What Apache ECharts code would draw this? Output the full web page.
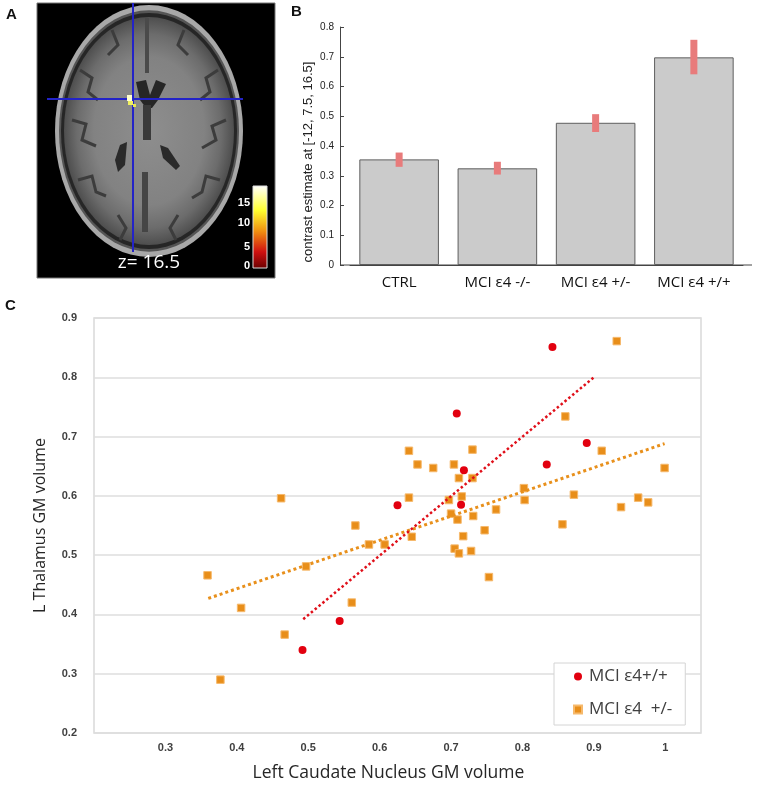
<!DOCTYPE html>
<html>
<head>
<meta charset="utf-8">
<script src="https://cdn.jsdelivr.net/npm/echarts@6/dist/echarts.min.js"></script>
<style>
html,body{margin:0;padding:0;background:#fff;}
#chart{width:765px;height:789px;}
</style>
</head>
<body>
<div id="chart"></div>
<script>
// ---- Panel B data ----
const bCategories = ['CTRL', 'MCI ε4 -/-', 'MCI ε4 +/-', 'MCI ε4 +/+'];
const bMeans = [0.355, 0.325, 0.478, 0.698];
const bErrLow = [0.330, 0.304, 0.447, 0.641];
const bErrHigh = [0.378, 0.347, 0.507, 0.757];
const bYTitle = 'contrast estimate at [-12, 7.5, 16.5]';

// ---- Panel C data ----
const homX = [0.708, 0.718, 0.625, 0.714, 0.544, 0.492, 0.842, 0.890, 0.834];
const homY = [0.739, 0.643, 0.584, 0.585, 0.389, 0.340, 0.851, 0.689, 0.653];
const hetX = [0.462, 0.641, 0.653, 0.675, 0.704, 0.730, 0.711, 0.730, 0.641, 0.715,
              0.697, 0.763, 0.700, 0.709, 0.731, 0.566, 0.747, 0.717, 0.645, 0.585,
              0.607, 0.705, 0.711, 0.728, 0.497, 0.359, 0.753, 0.406, 0.561, 0.467,
              0.377, 0.932, 0.860, 0.911, 0.999, 0.802, 0.803, 0.872, 0.962, 0.976,
              0.938, 0.856];
const hetY = [0.596, 0.676, 0.653, 0.647, 0.653, 0.678, 0.630, 0.630, 0.597, 0.599,
              0.593, 0.577, 0.570, 0.560, 0.566, 0.550, 0.542, 0.532, 0.531, 0.518,
              0.518, 0.511, 0.503, 0.507, 0.481, 0.466, 0.463, 0.411, 0.420, 0.366,
              0.290, 0.861, 0.734, 0.676, 0.647, 0.613, 0.593, 0.602, 0.597, 0.589,
              0.581, 0.552];
const homTrendX = [0.493, 0.902];
const homTrendY = [0.392, 0.802];
const hetTrendX = [0.360, 0.999];
const hetTrendY = [0.427, 0.688];

// ---- Panel A colour bar labels ----
const cbarLabels = ['15', '10', '5', '0'];

const zip = (xs, ys) => xs.map((x, i) => [x, ys[i]]);
const fmt1 = v => (Math.abs(v) < 1e-9 ? '0' : (Math.abs(v - 1) < 1e-9 ? '1' : v.toFixed(1)));

const chart = echarts.init(document.getElementById('chart'), null, {renderer: 'canvas'});

// Panel A schematic graphics
const cx = 149, cy = 131, sy = 126 / 94;
const dark = '#3c3c3c';
const brain = [
  {type: 'rect', shape: {x: 37, y: 3, width: 238, height: 275}, style: {fill: '#000', stroke: '#777', lineWidth: 1}},
  {type: 'circle', x: cx, y: cy, scaleY: sy, shape: {cx: 0, cy: 0, r: 94}, style: {fill: '#a8a8a8'}},
  {type: 'circle', x: cx, y: cy, scaleY: sy, shape: {cx: 0, cy: 0, r: 90}, style: {fill: '#555'}},
  {type: 'circle', x: cx, y: cy, scaleY: sy, shape: {cx: 0, cy: 0, r: 88}, style: {fill: '#262626'}},
  {type: 'circle', x: cx, y: cy, scaleY: sy, shape: {cx: 0, cy: 0, r: 85},
    style: {fill: {type: 'radial', x: 0.5, y: 0.5, r: 0.5, colorStops: [
      {offset: 0, color: '#8e8e8e'}, {offset: 0.65, color: '#828282'}, {offset: 0.85, color: '#6c6c6c'}, {offset: 1, color: '#4e4e4e'}]}}},
  // sulci
  {type: 'polyline', shape: {points: [[80, 70], [92, 78], [88, 92], [98, 100]]}, style: {stroke: dark, lineWidth: 3, fill: null}},
  {type: 'polyline', shape: {points: [[72, 120], [86, 124], [82, 140], [96, 146]]}, style: {stroke: dark, lineWidth: 3, fill: null}},
  {type: 'polyline', shape: {points: [[78, 180], [92, 176], [96, 192], [106, 196]]}, style: {stroke: dark, lineWidth: 3, fill: null}},
  {type: 'polyline', shape: {points: [[218, 70], [206, 78], [210, 92], [200, 100]]}, style: {stroke: dark, lineWidth: 3, fill: null}},
  {type: 'polyline', shape: {points: [[226, 120], [212, 126], [216, 140], [202, 148]]}, style: {stroke: dark, lineWidth: 3, fill: null}},
  {type: 'polyline', shape: {points: [[220, 180], [206, 176], [202, 192], [192, 198]]}, style: {stroke: dark, lineWidth: 3, fill: null}},
  {type: 'polyline', shape: {points: [[112, 30], [118, 45], [108, 55]]}, style: {stroke: dark, lineWidth: 3, fill: null}},
  {type: 'polyline', shape: {points: [[184, 30], [178, 45], [188, 55]]}, style: {stroke: dark, lineWidth: 3, fill: null}},
  {type: 'polyline', shape: {points: [[118, 215], [126, 228], [120, 240]]}, style: {stroke: dark, lineWidth: 3, fill: null}},
  {type: 'polyline', shape: {points: [[178, 215], [170, 228], [176, 240]]}, style: {stroke: dark, lineWidth: 3, fill: null}},
  // ventricles & midline
  {type: 'polygon', shape: {points: [[136, 82], [146, 80], [150, 95], [156, 80], [166, 84], [158, 100], [152, 108], [146, 108], [140, 100]]}, style: {fill: '#262626'}},
  {type: 'rect', shape: {x: 143, y: 105, width: 8, height: 35}, style: {fill: '#3a3a3a'}},
  {type: 'polygon', shape: {points: [[120, 145], [127, 142], [125, 165], [118, 172], [115, 160]]}, style: {fill: '#2a2a2a'}},
  {type: 'polygon', shape: {points: [[160, 145], [168, 148], [180, 166], [176, 170], [163, 158]]}, style: {fill: '#2a2a2a'}},
  {type: 'rect', shape: {x: 142, y: 172, width: 6, height: 60}, style: {fill: '#454545'}},
  {type: 'rect', shape: {x: 145, y: 18, width: 4, height: 55}, style: {fill: '#4a4a4a'}},
  // crosshair
  {type: 'line', shape: {x1: 133, y1: 3, x2: 133, y2: 252}, style: {stroke: '#2323c8', lineWidth: 2}},
  {type: 'line', shape: {x1: 47, y1: 99, x2: 243, y2: 99}, style: {stroke: '#2323c8', lineWidth: 2}},
  {type: 'rect', shape: {x: 127, y: 95, width: 5, height: 6}, style: {fill: '#ffffd0'}},
  {type: 'rect', shape: {x: 128, y: 101, width: 5, height: 4}, style: {fill: '#f0f060'}},
  {type: 'rect', shape: {x: 133, y: 104, width: 3, height: 3}, style: {fill: '#e8e850'}},
  // colour bar
  {type: 'rect', shape: {x: 253, y: 186, width: 14, height: 82},
    style: {stroke: '#ddd', lineWidth: 1, fill: {type: 'linear', x: 0, y: 0, x2: 0, y2: 1, colorStops: [
      {offset: 0, color: '#ffffff'}, {offset: 0.3, color: '#ffff30'}, {offset: 0.55, color: '#f09010'},
      {offset: 0.8, color: '#d01010'}, {offset: 1, color: '#6a0000'}]}}},
  {type: 'text', x: 149, y: 263, style: {text: 'z= 16.5', fill: '#fff', font: '19px "Open Sans", sans-serif', align: 'center', verticalAlign: 'middle'}},
  // panel B y-axis title (positioned as in reference, slightly below axis centre)
  {type: 'text', x: 308, y: 162, rotation: Math.PI / 2,
    style: {text: bYTitle, fill: '#222', font: '13px "Liberation Sans", Arial, sans-serif', align: 'center', verticalAlign: 'middle'}},
  // panel B x-axis line extension (axis line runs slightly beyond categories)
  {type: 'line', shape: {x1: 340, y1: 265, x2: 752, y2: 265}, style: {stroke: '#444', lineWidth: 1}}
];
const cbarY = [203, 223, 247, 266];
cbarLabels.forEach((t, i) => brain.push({type: 'text', x: 250, y: cbarY[i],
  style: {text: t, fill: '#fff', font: 'bold 11px "Liberation Sans", Arial, sans-serif', align: 'right', verticalAlign: 'middle'}}));
// panel letters
[['A', 6, 15], ['B', 291, 12], ['C', 5, 306]].forEach(p => brain.push({type: 'text', x: p[1], y: p[2],
  style: {text: p[0], fill: '#111', font: 'bold 15px "Liberation Sans", Arial, sans-serif', verticalAlign: 'middle'}}));

const option = {
  animation: false,
  backgroundColor: '#fff',
  graphic: brain,
  grid: [
    {left: 350, right: 22, top: 27, height: 238},
    {left: 94, right: 64, top: 318, bottom: 56, show: true, borderColor: '#d9d9d9', borderWidth: 1.5, backgroundColor: 'transparent'}
  ],
  legend: {
    data: [{name: 'MCI ε4+/+', icon: 'circle'}, {name: 'MCI ε4  +/-', icon: 'rect'}],
    orient: 'vertical', left: 554, top: 663,
    itemWidth: 8, itemHeight: 8, itemGap: 16,
    padding: [5, 13, 7, 19],
    borderColor: '#d4d4d4', borderWidth: 1, backgroundColor: '#fff',
    textStyle: {fontFamily: '"Open Sans", sans-serif', fontSize: 17, color: '#404040', padding: [0, 0, 0, 2]}
  },
  xAxis: [
    {type: 'category', gridIndex: 0, data: bCategories,
      axisLine: {lineStyle: {color: '#444', width: 1}},
      axisTick: {inside: true, length: 4, lineStyle: {color: '#444'}},
      axisLabel: {margin: 10, color: '#111', fontSize: 15, fontFamily: '"Open Sans", sans-serif'}},
    {type: 'value', gridIndex: 1, min: 0.2, max: 1.05, interval: 0.1,
      name: 'Left Caudate Nucleus GM volume', nameLocation: 'middle', nameGap: 31,
      nameTextStyle: {fontFamily: '"Open Sans", sans-serif', fontSize: 17.5, color: '#262626', padding: [0, 18, 0, 0]},
      axisLine: {show: false}, axisTick: {show: false}, splitLine: {show: false},
      axisLabel: {showMinLabel: false, showMaxLabel: false, margin: 9, formatter: fmt1,
        color: '#404040', fontSize: 11, fontWeight: 'bold', fontFamily: '"Liberation Sans", Arial, sans-serif'}}
  ],
  yAxis: [
    {type: 'value', gridIndex: 0, min: 0, max: 0.8, interval: 0.1, offset: 10,
      axisLine: {show: true, lineStyle: {color: '#444', width: 1}},
      axisTick: {show: true, inside: true, length: 4, lineStyle: {color: '#444'}},
      splitLine: {show: false},
      axisLabel: {margin: 6, formatter: fmt1, color: '#222', fontSize: 10, fontFamily: '"Liberation Sans", Arial, sans-serif'}},
    {type: 'value', gridIndex: 1, min: 0.2, max: 0.9, interval: 0.1,
      name: 'L Thalamus GM volume', nameLocation: 'middle', nameGap: 46,
      nameTextStyle: {fontFamily: '"Open Sans", sans-serif', fontSize: 16, color: '#262626'},
      axisLine: {show: false}, axisTick: {show: false},
      splitLine: {show: true, lineStyle: {color: '#dedede', width: 1.5}},
      axisLabel: {margin: 17, formatter: fmt1, color: '#404040', fontSize: 11, fontWeight: 'bold', fontFamily: '"Liberation Sans", Arial, sans-serif'}}
  ],
  series: [
    {type: 'bar', xAxisIndex: 0, yAxisIndex: 0, data: bMeans, barWidth: '81%',
      itemStyle: {color: '#cbcbcb', borderColor: '#5e5e5e', borderWidth: 1}},
    {type: 'custom', xAxisIndex: 0, yAxisIndex: 0, z: 5,
      data: bCategories.map((c, i) => [i, bErrLow[i], bErrHigh[i]]),
      encode: {x: 0, y: [1, 2]},
      renderItem: function (params, api) {
        const lo = api.coord([api.value(0), api.value(1)]);
        const hi = api.coord([api.value(0), api.value(2)]);
        return {type: 'rect', shape: {x: lo[0] - 3.5, y: hi[1], width: 7, height: lo[1] - hi[1]},
          style: {fill: '#e87b7b'}};
      }},
    {name: 'MCI ε4  +/-', type: 'scatter', xAxisIndex: 1, yAxisIndex: 1, data: zip(hetX, hetY),
      symbol: 'rect', symbolSize: 7.5, z: 3,
      itemStyle: {color: '#e88e1a', borderColor: '#f6b96c', borderWidth: 1, opacity: 1}},
    {name: 'MCI ε4+/+', type: 'scatter', xAxisIndex: 1, yAxisIndex: 1, data: zip(homX, homY),
      symbol: 'circle', symbolSize: 8, z: 4,
      itemStyle: {color: '#e2000f', opacity: 1}},
    {name: 'hetTrend', type: 'line', xAxisIndex: 1, yAxisIndex: 1, data: zip(hetTrendX, hetTrendY),
      symbol: 'none', z: 5, silent: true,
      lineStyle: {color: '#e8901c', width: 3, type: [3, 3], cap: 'butt'}},
    {name: 'homTrend', type: 'line', xAxisIndex: 1, yAxisIndex: 1, data: zip(homTrendX, homTrendY),
      symbol: 'none', z: 6, silent: true,
      lineStyle: {color: '#e0101a', width: 2.5, type: [2.5, 2.5], cap: 'butt'}}
  ]
};
chart.setOption(option);
</script>
</body>
</html>
